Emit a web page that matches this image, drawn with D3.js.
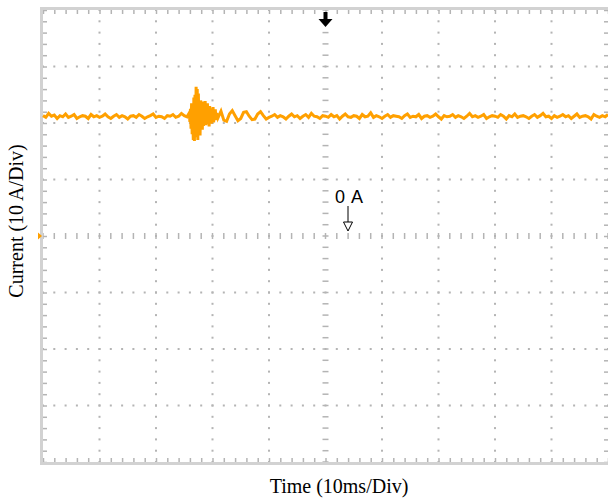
<!DOCTYPE html>
<html><head><meta charset="utf-8">
<script src="https://cdn.jsdelivr.net/npm/d3@7/dist/d3.min.js"></script>
<style>body{margin:0;background:#fff}svg{display:block}</style>
</head><body>
<svg id="chart" width="608" height="499"></svg>
<script>
// Oscilloscope trace: current (A) vs time (ms), 10 ms/div, 10 A/div
const timeDomainMs = [0, 100];
const currentDomainA = [-40, 40];
const majorTicksMs = [0, 10, 20, 30, 40, 50, 60, 70, 80, 90, 100];
const majorTicksA = [-40, -30, -20, -10, 0, 10, 20, 30, 40];
const triggerTimeMs = 50;
const zeroLabel = "0 A";
const xTitle = "Time (10ms/Div)";
const yTitle = "Current (10 A/Div)";

// segment 1: t = 0 .. 25.5 ms every 0.5 ms
const preStart = 0, preStep = 0.5;
const preTrace = [21.3,21.0,21.7,21.2,21.4,20.8,21.3,21.1,21.6,21.0,
21.2,21.5,20.8,21.1,21.3,21.2,20.8,21.5,21.1,21.3,
21.0,21.2,21.6,21.1,20.8,21.2,21.5,21.0,21.3,21.1,
20.7,21.2,21.3,21.0,21.5,21.2,20.8,21.1,21.3,21.6,
21.0,21.2,21.1,20.8,21.3,21.2,21.5,21.0,21.2,21.7,
21.3,21.1];
// segment 2: t = 25.9 .. 31.0 ms every 0.1 ms (disturbance burst)
const burstStart = 25.9, burstStep = 0.1;
const burstTrace = [21.8,20.2,22.5,19.0,23.5,18.0,22.0,17.0,24.5,16.8,
25.0,17.5,26.4,18.2,26.0,17.0,25.2,18.5,23.0,17.8,
24.0,19.0,22.5,18.8,23.8,19.5,21.8,20.0,23.9,19.6,
22.8,19.8,23.5,20.0,22.0,19.4,23.0,20.3,22.6,19.9,
22.2,20.4,22.8,20.1,21.9,20.6,22.4,20.5,21.8,20.7,
21.7,21.0];
// segment 3: t = 31.5 .. 100 ms every 0.5 ms
const postStart = 31.5, postStep = 0.5;
const postTrace = [22.1,20.5,20.3,21.6,22.2,21.3,20.4,20.8,
21.9,22.0,21.2,20.6,20.7,21.6,22.0,21.3,20.7,21.0,
21.2,21.5,21.0,21.3,21.1,20.7,21.2,21.6,21.1,21.3,
20.8,21.2,21.5,21.0,21.7,21.2,21.1,20.8,21.3,21.2,
21.0,21.5,21.1,21.3,20.7,21.2,21.6,21.1,21.0,21.3,
21.2,20.8,21.5,21.1,21.2,21.8,21.0,21.3,21.1,20.8,
21.2,21.5,21.0,21.3,21.2,21.1,20.8,21.3,21.6,21.0,
21.2,21.1,21.5,20.8,21.2,21.3,21.0,21.2,21.6,21.1,
20.7,21.3,21.1,21.2,21.5,21.0,21.3,21.1,20.8,21.2,
21.7,21.1,21.3,21.0,21.2,21.5,20.8,21.1,21.3,21.2,
21.0,21.5,21.2,20.7,21.3,21.1,21.6,21.0,21.2,21.3,
21.1,20.8,21.2,21.5,21.0,21.3,21.7,21.1,21.2,20.8,
21.3,21.0,21.2,21.5,21.1,21.3,20.8,21.2,21.6,21.0,
21.2,21.3,21.1,20.7,21.5,21.2,21.0,21.3,21.1,21.5];

const points = [];
preTrace.forEach((v,i)=>points.push([preStart+i*preStep, v]));
burstTrace.forEach((v,i)=>points.push([burstStart+i*burstStep, v]));
postTrace.forEach((v,i)=>points.push([postStart+i*postStep, v]));

const L = 43, R = 608, T = 10, B = 462;
const x = d3.scaleLinear().domain(timeDomainMs).range([L, R]);
const y = d3.scaleLinear().domain(currentDomainA).range([B, T]);
const svg = d3.select("#chart");

const grid = "#b4b4b4";
const minorX = d3.range(0, 101, 2);
const minorY = d3.range(-40, 41, 2);

// dotted major grid lines
const g = svg.append("g");
majorTicksMs.slice(1, -1).forEach(t => {
  if (t === triggerTimeMs) return;
  minorY.forEach(v => g.append("rect").attr("x", x(t)-1).attr("y", y(v)-1).attr("width", 2).attr("height", 2).attr("fill", grid));
});
majorTicksA.slice(1, -1).forEach(v => {
  if (v === 0) return;
  minorX.forEach(t => g.append("rect").attr("x", x(t)-1).attr("y", y(v)-1).attr("width", 2).attr("height", 2).attr("fill", grid));
});
// centre lines with small ticks
minorY.forEach(v => g.append("line").attr("x1", x(triggerTimeMs)-3).attr("x2", x(triggerTimeMs)+3)
  .attr("y1", y(v)).attr("y2", y(v)).attr("stroke", grid).attr("stroke-width", 1.5));
minorX.forEach(t => g.append("line").attr("x1", x(t)).attr("x2", x(t))
  .attr("y1", y(0)-3).attr("y2", y(0)+3).attr("stroke", grid).attr("stroke-width", 1.5));

// border ticks via d3 axes
const tickStyle = sel => { sel.select(".domain").remove(); sel.selectAll("text").remove(); sel.selectAll("line").attr("stroke", grid).attr("stroke-width", 1.5); };
svg.append("g").attr("transform", `translate(0,${B})`).call(d3.axisTop(x).tickValues(minorX).tickSize(4).tickFormat("")).call(tickStyle);
svg.append("g").attr("transform", `translate(0,${T})`).call(d3.axisBottom(x).tickValues(minorX).tickSize(4).tickFormat("")).call(tickStyle);
svg.append("g").attr("transform", `translate(${L},0)`).call(d3.axisRight(y).tickValues(minorY).tickSize(4).tickFormat("")).call(tickStyle);
svg.append("g").attr("transform", `translate(${R},0)`).call(d3.axisLeft(y).tickValues(minorY).tickSize(4).tickFormat("")).call(tickStyle);

// border
svg.append("rect").attr("x", L-1.5).attr("y", T-1.5).attr("width", R-L+3).attr("height", B-T+3)
  .attr("fill", "none").attr("stroke", "#d2d2d2").attr("stroke-width", 3);

// trace
svg.append("path").datum(points)
  .attr("d", d3.line().x(d => x(d[0])).y(d => y(d[1])))
  .attr("fill", "none").attr("stroke", "#ffa000").attr("stroke-width", 3).attr("stroke-linejoin", "miter");

// channel marker on left
svg.append("path").attr("d", `M${L-5},${y(0)-3.5}L${L-1},${y(0)}L${L-5},${y(0)+3.5}Z`).attr("fill", "#ffa000");

// trigger arrow on top
const ax = x(triggerTimeMs);
svg.append("path").attr("d", `M${ax-2},${T+2}H${ax+2}V${T+9}H${ax+7}L${ax},${T+17}L${ax-7},${T+9}H${ax-2}Z`).attr("fill", "#000");

// 0 A label + hollow arrow
svg.append("text").attr("x", 335).attr("y", 203).attr("font-family", "Arial, Liberation Sans, sans-serif")
  .attr("font-size", 18).attr("letter-spacing", 1).attr("fill", "#000").text(zeroLabel);
svg.append("line").attr("x1", 348).attr("x2", 348).attr("y1", 206).attr("y2", 222).attr("stroke", "#000").attr("stroke-width", 1);
svg.append("path").attr("d", `M343.5,222H352.5L348,231Z`).attr("fill", "#fff").attr("stroke", "#000").attr("stroke-width", 1);

// axis titles
svg.append("text").attr("x", 339).attr("y", 493).attr("text-anchor", "middle")
  .attr("font-family", "Liberation Serif, Times New Roman, serif").attr("font-size", 20).attr("fill", "#000").text(xTitle);
svg.append("text").attr("transform", `translate(23,221) rotate(-90)`).attr("text-anchor", "middle")
  .attr("font-family", "Liberation Serif, Times New Roman, serif").attr("font-size", 20).attr("fill", "#000").text(yTitle);
</script>
</body></html>
